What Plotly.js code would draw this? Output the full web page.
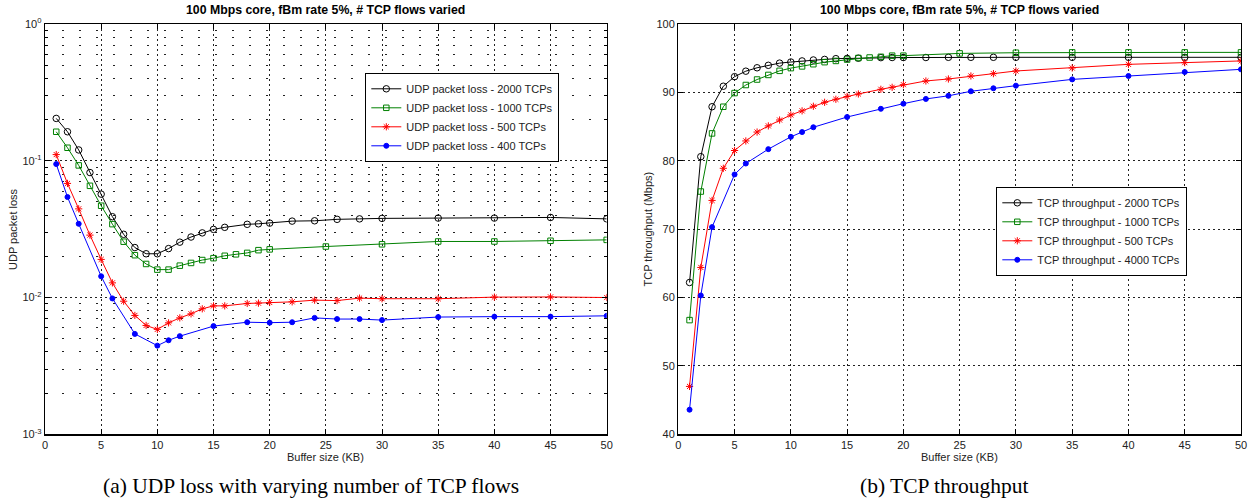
<!DOCTYPE html>
<html><head><meta charset="utf-8">
<script src="https://cdn.plot.ly/plotly-3.0.1.min.js"></script>
<style>html,body{margin:0;padding:0;background:#fff;} #chart{width:1252px;height:502px;}</style>
</head><body><div id="chart"></div>
<script>
// ---------- data ----------
const chartTitle = "100 Mbps core, fBm rate 5%, # TCP flows varied";
const xLabel = "Buffer size (KB)";
const captionA = "(a) UDP loss with varying number of TCP flows";
const captionB = "(b) TCP throughput";

// buffer sizes (KB) at which each series was sampled
const buf2000 = [1,2,3,4,5,6,7,8,9,10,11,12,13,14,15,16,18,19,20,22,24,26,28,30,35,40,45,50];
const buf1000 = [1,2,3,4,5,6,7,8,9,10,11,12,13,14,15,16,17,18,19,20,25,30,35,40,45,50];
const buf500  = [1,2,3,4,5,6,7,8,9,10,11,12,13,14,15,16,18,19,20,22,24,26,28,30,35,40,45,50];
const buf400  = [1,2,3,5,6,8,10,11,12,15,18,20,22,24,26,28,30,35,40,45,50];

// (a) UDP packet loss
const udp2000 = [0.204,0.163,0.120,0.082,0.057,0.039,0.029,0.0232,0.0209,0.0209,0.0228,0.0254,0.0277,0.0297,0.0315,0.0326,
                 0.0343,0.0346,0.035,0.0362,0.0364,0.0373,0.0376,0.0379,0.0381,0.0381,0.0385,0.0376];
const udp1000 = [0.163,0.1245,0.0925,0.0656,0.0469,0.0344,0.0256,0.0204,0.0176,0.016,
                 0.016,0.0171,0.0179,0.0188,0.0194,0.0202,0.0207,0.0212,0.0222,0.0225,
                 0.0236,0.0245,0.0257,0.0257,0.026,0.0264];
const udp500  = [0.111,0.0683,0.0445,0.0286,0.019,0.0128,0.0094,0.0074,0.00625,0.00585,0.00653,0.0071,0.0076,0.00827,0.00869,0.00869,
                 0.00905,0.0091,0.0092,0.0093,0.00957,0.0095,0.0099,0.0098,0.0098,0.01007,0.0101,0.0100];
const udp400  = [0.0946,0.0543,0.0346,0.0143,0.00985,0.00542,0.00445,0.00487,0.00522,0.00618,0.0066,0.00655,0.0066,
                 0.0071,0.00696,0.00696,0.00684,0.0072,0.00725,0.00725,0.00735];

// (b) TCP throughput (Mbps)
const tcp2000 = [62.2,80.6,87.9,90.9,92.3,93.1,93.6,93.96,94.28,94.44,94.6,94.74,94.82,94.93,94.97,95.0,
                 95.08,95.1,95.1,95.1,95.13,95.13,95.13,95.13,95.13,95.13,95.13,95.13];
const tcp1000 = [56.7,75.5,84.0,87.9,89.9,91.08,91.88,92.55,93.15,93.55,93.8,94.12,94.42,94.6,94.8,95.03,95.1,95.2,95.37,95.37,
                 95.7,95.8,95.85,95.85,95.85,95.85];
const tcp500  = [47.0,64.4,74.2,78.9,81.5,82.9,84.2,85.1,85.96,86.7,87.3,87.97,88.55,88.99,89.4,89.77,
                 90.45,90.74,91.13,91.67,91.96,92.4,92.74,93.13,93.57,94.1,94.35,94.6];
const tcp4000 = [43.6,60.3,70.3,78.0,79.6,81.7,83.5,84.2,84.9,86.4,87.6,88.35,89.04,89.5,90.16,90.6,90.98,91.9,92.4,92.98,93.37];

const udpNames = ["UDP packet loss - 2000 TCPs","UDP packet loss - 1000 TCPs","UDP packet loss - 500 TCPs","UDP packet loss - 400 TCPs"];
const tcpNames = ["TCP throughput - 2000 TCPs","TCP throughput - 1000 TCPs","TCP throughput - 500 TCPs","TCP throughput - 4000 TCPs"];

const logTickVals = [0.001,0.01,0.1,1];
const logTickText = ["10<sup>-3</sup>","10<sup>-2</sup>","10<sup>-1</sup>","10<sup>0</sup>"];
const logMinorVals = [];
[0.001,0.01,0.1].forEach(d => { for (let k = 2; k <= 9; k++) logMinorVals.push(+(d*k).toPrecision(3)); });

// ---------- styles ----------
const SANS = "Liberation Sans, Arial, Helvetica, sans-serif";
const SERIF = "Liberation Serif, Times New Roman, serif";
const GREEN = "#008000";
const styles = [
  {color:"#000000", symbol:"circle-open", size:6.5},
  {color:GREEN, symbol:"square-open", size:5.5},
  {color:"#ff0000", symbol:"asterisk-open", size:6},
  {color:"#0000ff", symbol:"circle", size:5}
];
function mk(x, y, i, name, xa, ya, leg) {
  const s = styles[i];
  return {x:x, y:y, name:name, type:"scatter", mode:"lines+markers", xaxis:xa, yaxis:ya, legend:leg,
          line:{color:s.color, width:1},
          marker:{symbol:s.symbol, size:s.size, color:s.color, line:{color:s.color, width:1}}};
}
const traces = [
  mk(buf2000, udp2000, 0, udpNames[0], "x", "y", "legend"),
  mk(buf1000, udp1000, 1, udpNames[1], "x", "y", "legend"),
  mk(buf500,  udp500,  2, udpNames[2], "x", "y", "legend"),
  mk(buf400,  udp400,  3, udpNames[3], "x", "y", "legend"),
  mk(buf2000, tcp2000, 0, tcpNames[0], "x2", "y2", "legend2"),
  mk(buf1000, tcp1000, 1, tcpNames[1], "x2", "y2", "legend2"),
  mk(buf500,  tcp500,  2, tcpNames[2], "x2", "y2", "legend2"),
  mk(buf400,  tcp4000, 3, tcpNames[3], "x2", "y2", "legend2")
];

const W = 1252, H = 502;
const px = v => v / W, py = v => 1 - v / H;
const axisBase = {
  showline:true, linecolor:"#000", linewidth:1.3, mirror:"ticks",
  ticks:"inside", ticklen:5, tickwidth:1, tickcolor:"#000",
  showgrid:true, gridcolor:"#222", griddash:"2px,3px", gridwidth:1,
  zeroline:false, automargin:false, fixedrange:true,
  tickfont:{family:SANS, size:11, color:"#222"}
};
const xTicks = {tickmode:"linear", tick0:0, dtick:5, range:[0,50]};
const yDom = [py(434.3), py(24)];

const layout = {
  width:W, height:H, autosize:false,
  margin:{l:0, r:0, t:0, b:0, pad:0},
  paper_bgcolor:"#fff", plot_bgcolor:"#fff",
  showlegend:true,
  font:{family:SANS, color:"#000"},
  xaxis: Object.assign({}, axisBase, xTicks, {domain:[px(45), px(606.7)], anchor:"y"}),
  yaxis: Object.assign({}, axisBase, {domain:yDom, anchor:"x", type:"log", range:[-3,0],
          tickmode:"array", tickvals:logTickVals, ticktext:logTickText,
          minor:{tickmode:"array", tickvals:logMinorVals, ticks:"inside", ticklen:3, tickcolor:"#000",
                 showgrid:true, gridcolor:"#222", griddash:"2px,15px", gridwidth:1}}),
  xaxis2: Object.assign({}, axisBase, xTicks, {domain:[px(678.3), px(1241)], anchor:"y2"}),
  yaxis2: Object.assign({}, axisBase, {domain:yDom, anchor:"x2", range:[40,100], tickmode:"linear", tick0:40, dtick:10}),
  legend:{x:px(365), y:py(117.5), xanchor:"left", yanchor:"middle", bgcolor:"#fff",
          bordercolor:"#000", borderwidth:1.3, font:{family:SANS, size:11, color:"#222"},
          tracegroupgap:0, itemclick:false},
  legend2:{x:px(996), y:py(231.5), xanchor:"left", yanchor:"middle", bgcolor:"#fff",
          bordercolor:"#000", borderwidth:1.3, font:{family:SANS, size:11, color:"#222"},
          tracegroupgap:0, itemclick:false},
  annotations:[
    {text:"<b>"+chartTitle+"</b>", x:px(325.8), y:py(10.5), xref:"paper", yref:"paper", showarrow:false,
     xanchor:"center", yanchor:"middle", font:{family:SANS, size:12.3, color:"#000"}},
    {text:"<b>"+chartTitle+"</b>", x:px(959.7), y:py(10.5), xref:"paper", yref:"paper", showarrow:false,
     xanchor:"center", yanchor:"middle", font:{family:SANS, size:12.3, color:"#000"}},
    {text:xLabel, x:px(325.8), y:py(456.5), xref:"paper", yref:"paper", showarrow:false,
     xanchor:"center", yanchor:"middle", font:{family:SANS, size:11, color:"#222"}},
    {text:xLabel, x:px(959.7), y:py(456.5), xref:"paper", yref:"paper", showarrow:false,
     xanchor:"center", yanchor:"middle", font:{family:SANS, size:11, color:"#222"}},
    {text:"UDP packet loss", x:px(13), y:py(229), xref:"paper", yref:"paper", showarrow:false, textangle:-90,
     xanchor:"center", yanchor:"middle", font:{family:SANS, size:11, color:"#222"}},
    {text:"TCP throughput (Mbps)", x:px(647.5), y:py(229), xref:"paper", yref:"paper", showarrow:false, textangle:-90,
     xanchor:"center", yanchor:"middle", font:{family:SANS, size:11, color:"#222"}},
    {text:captionA, x:px(311), y:py(486), xref:"paper", yref:"paper", showarrow:false,
     xanchor:"center", yanchor:"middle", font:{family:SERIF, size:21.5, color:"#000"}},
    {text:captionB, x:px(944), y:py(486), xref:"paper", yref:"paper", showarrow:false,
     xanchor:"center", yanchor:"middle", font:{family:SERIF, size:21.5, color:"#000"}}
  ]
};

Plotly.newPlot("chart", traces, layout, {displayModeBar:false, staticPlot:true});
</script>
</body></html>
